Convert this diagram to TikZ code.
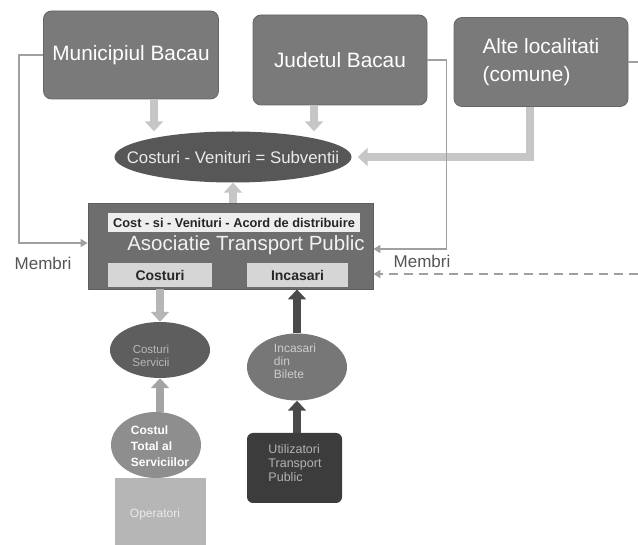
\documentclass[tikz,border=0pt]{standalone}
\usepackage{fontspec}
\setmainfont{Liberation Sans}
\usetikzlibrary{arrows.meta,shapes.geometric}
\definecolor{topgray}{HTML}{7A7A7A}
\definecolor{topedge}{HTML}{666666}
\definecolor{atpgray}{HTML}{6E6E6E}
\definecolor{mainell}{HTML}{575757}
\definecolor{csvgray}{HTML}{5E5E5E}
\definecolor{incgray}{HTML}{777777}
\definecolor{utilgray}{HTML}{3C3C3C}
\definecolor{ctotgray}{HTML}{8E8E8E}
\definecolor{opergray}{HTML}{B6B6B6}
\definecolor{lightarrow}{HTML}{C6C6C6}
\definecolor{midarrow}{HTML}{A4A4A4}
\definecolor{darkarrow}{HTML}{4A4A4A}
\definecolor{connline}{HTML}{A0A0A0}
\definecolor{membri}{HTML}{555555}
\definecolor{innerbox}{HTML}{EEEEEE}
\begin{document}
\begin{tikzpicture}[x=1pt,y=-1pt,
  topbox/.style={rectangle, rounded corners=8pt, fill=topgray, draw=topedge, line width=0.8pt,
    text=white, font=\fontsize{20.8}{28}\selectfont, inner sep=0pt},
  ellshape/.style={ellipse, inner sep=0pt},
  blockarrow/.style={line width=8pt, draw=lightarrow, line join=miter,
    -{Triangle[length=10pt,width=18pt]}},
  conn/.style={line width=1.5pt, draw=connline, -{Triangle[length=7pt,width=8pt]}},
  plainconn/.style={line width=1.5pt, draw=connline},
  lbl/.style={inner sep=0pt, align=left},
  whitebox/.style={rectangle, fill=innerbox, inner sep=0pt, text=black!85}
]
\useasboundingbox (0,0) rectangle (638,545);
\fill[white] (0,0) rectangle (638,545);

% top boxes
\node[topbox, minimum width=175pt, minimum height=88pt] (mun) at (131,55) {Municipiul Bacau};
\node[topbox, minimum width=174pt, minimum height=90pt] (jud) at (340,60) {Judetul Bacau};
\node[topbox, minimum width=174pt, minimum height=89pt, align=left] (alte) at (541,62) {Alte localitati\\(comune)};

% main ellipse
\node[ellshape, fill=mainell, minimum width=237pt, minimum height=51pt] (ell) at (233,157) {};
\node[lbl, text=white!92!black, font=\fontsize{16.8}{18}\selectfont] (elltxt) at (ell.center) {Costuri - Venituri = Subventii};

% ATP box
\node[rectangle, fill=atpgray, draw=atpgray!85!black, line width=0.8pt, minimum width=285pt, minimum height=86pt, inner sep=0pt] (atp) at (230.5,246) {};
\node[whitebox, minimum width=252pt, minimum height=19pt, font=\bfseries\fontsize{12.8}{14}\selectfont] (cv) at (234,222.5) {Cost - si - Venituri - Acord de distribuire};
\node[lbl, text=white!95!black, font=\fontsize{20.5}{24}\selectfont] (atptxt) at (246,245) {Asociatie Transport Public};
\node[whitebox, fill=innerbox!90!black, minimum width=104pt, minimum height=24pt, font=\bfseries\fontsize{14}{16}\selectfont] (costb) at (160,275) {Costuri};
\node[whitebox, fill=innerbox!90!black, minimum width=101pt, minimum height=24pt, font=\bfseries\fontsize{14}{16}\selectfont] (incb) at (297.5,275) {Incasari};

% lower ellipses and boxes
\node[ellshape, fill=csvgray, minimum width=100pt, minimum height=56pt] (csv) at (160,350) {};
\node[lbl, align=center, text=white!72!black, font=\fontsize{11.5}{12.5}\selectfont] (csvtxt) at (151,356) {Costuri\\Servicii};

\node[ellshape, fill=incgray, minimum width=100pt, minimum height=67pt] (inc) at (297,367) {};
\node[lbl, text=white!80!black, font=\fontsize{12}{13}\selectfont] (inctxt) at (295,361) {Incasari\\din\\Bilete};

\node[rectangle, rounded corners=6pt, fill=utilgray, minimum width=95pt, minimum height=70pt, inner sep=0pt] (util) at (294.5,468) {};
\node[lbl, text=white!70!black, font=\fontsize{12.5}{14}\selectfont] (utiltxt) at (295,463) {Utilizatori\\Transport\\Public};

\node[rectangle, fill=opergray, minimum width=91pt, minimum height=67pt, inner sep=0pt] (oper) at (160.5,511.5) {};
\node[lbl, text=white!92!black, font=\fontsize{12}{14}\selectfont] (opertxt) at (155,514) {Operatori};

\node[ellshape, fill=ctotgray, minimum width=90pt, minimum height=66pt] (ctot) at (156,445) {};
\node[lbl, text=white, font=\bfseries\fontsize{12}{16}\selectfont] (ctottxt) at (160,446) {Costul\\Total al\\Serviciilor};

% block arrows
\coordinate (munout) at ([xshift=23pt]mun.south);
\draw[blockarrow] (munout) -- (munout |- ell.north);
\coordinate (judout) at ([xshift=-26pt]jud.south);
\draw[blockarrow] (judout) -- (judout |- ell.north);
\coordinate (alteout) at ([xshift=-11pt]alte.south);
\draw[blockarrow] (alteout) |- ([xshift=6pt]ell.east);
\draw[blockarrow] (ell.south |- atp.north) -- (ell.south);
\draw[blockarrow, draw=midarrow!80!white] (costb.south |- atp.south) -- (csv.north);
\draw[blockarrow, draw=midarrow] (csv.south |- ctot.north) -- (csv.south);
\draw[blockarrow, draw=darkarrow] (inc.north) -- (inc.north |- atp.south);
\draw[blockarrow, draw=darkarrow] (inc.south |- util.north) -- (inc.south);

% connector lines
\draw[conn] (mun.west) -- ++(-24,0) |- ([yshift=3pt]atp.west);
\draw[conn] (jud.east) -- ++(19,0) |- ([yshift=-3pt]atp.east);
\coordinate (altefree) at (638,62);
\draw[plainconn] (alte.east) -- (altefree);
\coordinate (dashfree) at (638,274);
\draw[conn, dashed, dash pattern=on 9pt off 6pt] (dashfree) -- (atp.east |- dashfree);

% labels
\node[lbl, text=membri, font=\fontsize{17}{18}\selectfont] (m1) at (43,263) {Membri};
\node[lbl, text=membri, font=\fontsize{17}{18}\selectfont] (m2) at (422,261) {Membri};
\end{tikzpicture}
\end{document}
